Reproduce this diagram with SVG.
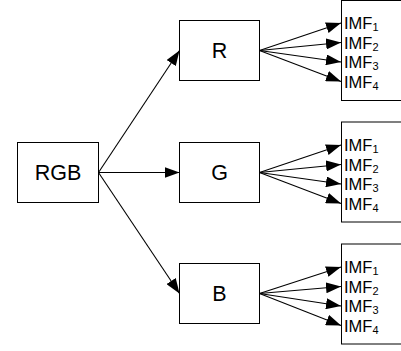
<svg xmlns="http://www.w3.org/2000/svg" width="401" height="351" viewBox="0 0 401 351">
<defs>
<marker id="ah" markerWidth="15" markerHeight="11" refX="15" refY="5.5" orient="auto" markerUnits="userSpaceOnUse">
<path d="M0,0 L15,5.5 L0,11 Z" fill="#000"/>
</marker>
<style>
.box{fill:#fff;stroke:#000;stroke-width:1}
.big{font-family:"Liberation Sans",Arial,sans-serif;font-size:21.5px;fill:#000;text-anchor:middle}
.imf{font-family:"Liberation Sans",Arial,sans-serif;font-size:16.5px;fill:#000}
.sub{font-size:11px}
.con line{stroke:#000;stroke-width:1.1;marker-end:url(#ah)}
</style>
</defs>
<g id="rgb"><rect class="box" x="17.5" y="142.5" width="81" height="60"/><text class="big" x="58" y="180">RGB</text></g>
<g id="r"><rect class="box" x="179.5" y="20.5" width="80" height="60"/><text class="big" x="219.5" y="58">R</text></g>
<g id="g"><rect class="box" x="179.5" y="142.5" width="80" height="60"/><text class="big" x="219.5" y="180">G</text></g>
<g id="b"><rect class="box" x="179.5" y="263.5" width="80" height="60"/><text class="big" x="219.5" y="301">B</text></g>
<g id="imf-r"><rect class="box" x="341.5" y="0.5" width="70" height="100"/>
<text class="imf" x="344" y="29">IMF<tspan class="sub" dy="2">1</tspan></text>
<text class="imf" x="344" y="48.5">IMF<tspan class="sub" dy="2">2</tspan></text>
<text class="imf" x="344" y="68">IMF<tspan class="sub" dy="2">3</tspan></text>
<text class="imf" x="344" y="87.5">IMF<tspan class="sub" dy="2">4</tspan></text>
</g>
<g id="imf-g"><rect class="box" x="341.5" y="122" width="70" height="100"/>
<text class="imf" x="344" y="151">IMF<tspan class="sub" dy="2">1</tspan></text>
<text class="imf" x="344" y="170.5">IMF<tspan class="sub" dy="2">2</tspan></text>
<text class="imf" x="344" y="190">IMF<tspan class="sub" dy="2">3</tspan></text>
<text class="imf" x="344" y="209.5">IMF<tspan class="sub" dy="2">4</tspan></text>
</g>
<g id="imf-b"><rect class="box" x="341.5" y="244" width="70" height="100"/>
<text class="imf" x="344" y="273">IMF<tspan class="sub" dy="2">1</tspan></text>
<text class="imf" x="344" y="292.5">IMF<tspan class="sub" dy="2">2</tspan></text>
<text class="imf" x="344" y="312">IMF<tspan class="sub" dy="2">3</tspan></text>
<text class="imf" x="344" y="331.5">IMF<tspan class="sub" dy="2">4</tspan></text>
</g>
<g id="connectors" class="con">
<line x1="98.5" y1="172.5" x2="179.5" y2="50.5"/>
<line x1="98.5" y1="172.5" x2="179.5" y2="172.5"/>
<line x1="98.5" y1="172.5" x2="179.5" y2="293.5"/>
<line x1="259.5" y1="50.5" x2="341" y2="23"/>
<line x1="259.5" y1="50.5" x2="341" y2="42.5"/>
<line x1="259.5" y1="50.5" x2="341" y2="62"/>
<line x1="259.5" y1="50.5" x2="341" y2="81.5"/>
<line x1="259.5" y1="172.5" x2="341" y2="145"/>
<line x1="259.5" y1="172.5" x2="341" y2="164.5"/>
<line x1="259.5" y1="172.5" x2="341" y2="184"/>
<line x1="259.5" y1="172.5" x2="341" y2="203.5"/>
<line x1="259.5" y1="293.5" x2="341" y2="267"/>
<line x1="259.5" y1="293.5" x2="341" y2="286.5"/>
<line x1="259.5" y1="293.5" x2="341" y2="306"/>
<line x1="259.5" y1="293.5" x2="341" y2="325.5"/>
</g>
</svg>
